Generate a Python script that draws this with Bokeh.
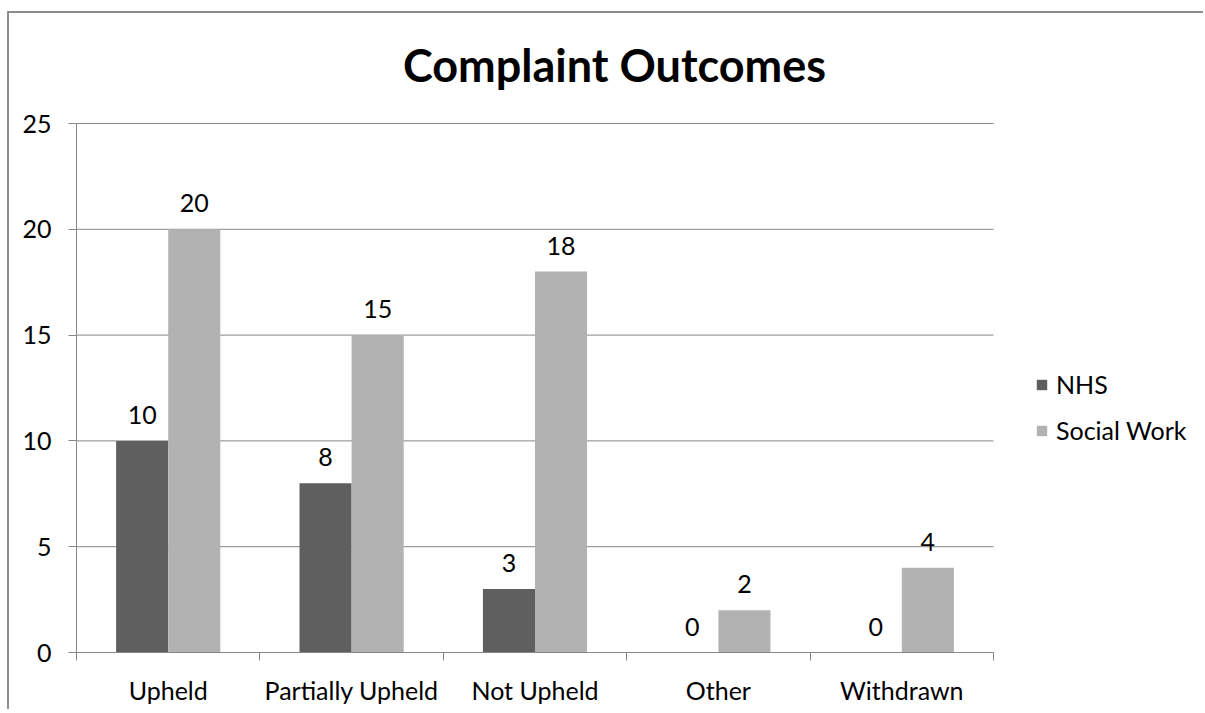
import numpy as np
from bokeh.plotting import figure
from bokeh.models import (Range1d, FixedTicker, ColumnDataSource, LabelSet, Label,
                          Legend, LegendItem)
from bokeh.core.properties import value
from bokeh.embed import file_html
from bokeh.resources import INLINE

categories = ["Upheld", "Partially Upheld", "Not Upheld", "Other", "Withdrawn"]
series_names = ["NHS", "Social Work"]
nhs_values = [10, 8, 3, 0, 0]
social_work_values = [20, 15, 18, 2, 4]
y_ticks = [0, 5, 10, 15, 20, 25]
title_text = "Complaint Outcomes"

NHS_COLOR = "#5f5f5f"
SW_COLOR = "#b2b2b2"
AXIS_COLOR = "#868686"
FONT = "Lato"
FS = "25px"

# layout (pixels)
ORIGIN_X, ORIGIN_Y = 9, 13          # content origin after css margin + border
FIG_W, FIG_H = 1196, 698
FRAME_L, FRAME_B = 76, 652
PLOT_R, PLOT_T = 993, 123          # end of category axis / top of value axis
n = len(categories)
y_max = y_ticks[-1]
px_per_x = (PLOT_R - FRAME_L) / n
px_per_y = (FRAME_B - PLOT_T) / y_max
x_end = (ORIGIN_X + FIG_W - FRAME_L) / px_per_x
y_end = (FRAME_B - ORIGIN_Y) / px_per_y

centers = np.arange(n) + 0.5
bar_w = 0.284

p = figure(width=FIG_W, height=FIG_H, x_range=Range1d(0, x_end),
           y_range=Range1d(0, y_end), output_backend="svg", toolbar_location=None,
           min_border_left=FRAME_L - ORIGIN_X, min_border_right=0, min_border_top=0,
           min_border_bottom=ORIGIN_Y + FIG_H - FRAME_B)
p.outline_line_color = None
p.background_fill_color = "white"
p.border_fill_color = "white"
p.styles = {"border-left": "2px solid #8c8c8c", "border-top": "2px solid #8c8c8c",
            "margin-left": "7px", "margin-top": "11px"}

# gridlines (value axis) drawn across the category span
p.segment(x0=[0] * len(y_ticks), x1=[n] * len(y_ticks), y0=y_ticks, y1=y_ticks,
          line_color=AXIS_COLOR, line_width=1)

src_nhs = ColumnDataSource(dict(x=centers - bar_w / 2, top=nhs_values,
                                label=[str(v) for v in nhs_values]))
src_sw = ColumnDataSource(dict(x=centers + bar_w / 2, top=social_work_values,
                               label=[str(v) for v in social_work_values]))

r_nhs = p.vbar(x="x", top="top", width=bar_w, source=src_nhs,
               fill_color=NHS_COLOR, line_color=None)
r_sw = p.vbar(x="x", top="top", width=bar_w, source=src_sw,
              fill_color=SW_COLOR, line_color=None)

for src in (src_nhs, src_sw):
    p.add_layout(LabelSet(x="x", y="top", text="label", source=src,
                          text_align="center", text_baseline="alphabetic",
                          y_offset=17, text_font=value(FONT), text_font_size=value(FS),
                          text_color="black"))

# y axis
p.yaxis.ticker = FixedTicker(ticks=y_ticks)
p.yaxis.bounds = (0, y_max)
p.yaxis.axis_line_color = AXIS_COLOR
p.yaxis.major_tick_line_color = AXIS_COLOR
p.yaxis.major_tick_in = 0
p.yaxis.major_tick_out = 8
p.yaxis.minor_tick_line_color = None
p.yaxis.major_label_standoff = 17
p.yaxis.major_label_text_font = FONT
p.yaxis.major_label_text_font_size = FS
p.yaxis.major_label_text_color = "black"

# x axis
p.xaxis.ticker = FixedTicker(ticks=list(centers), minor_ticks=list(range(n + 1)))
p.xaxis.bounds = (0, n)
p.xaxis.major_label_overrides = {float(c): name for c, name in zip(centers, categories)}
p.xaxis.axis_line_color = AXIS_COLOR
p.xaxis.major_tick_line_color = None
p.xaxis.major_tick_in = 0
p.xaxis.major_tick_out = 0
p.xaxis.minor_tick_line_color = AXIS_COLOR
p.xaxis.minor_tick_in = 0
p.xaxis.minor_tick_out = 8
p.xaxis.major_label_standoff = 14
p.xaxis.major_label_text_font = FONT
p.xaxis.major_label_text_font_size = FS
p.xaxis.major_label_text_color = "black"

p.xgrid.grid_line_color = None
p.ygrid.grid_line_color = None

# title
p.add_layout(Label(x=(614 - FRAME_L) / px_per_x, y=(FRAME_B - 64) / px_per_y,
                   text=title_text, text_align="center",
                   text_baseline="alphabetic", text_font=FONT, text_font_size="45px",
                   text_font_style="bold", text_color="black"))

legend = Legend(items=[LegendItem(label=series_names[0], renderers=[r_nhs]),
                       LegendItem(label=series_names[1], renderers=[r_sw])],
                location=(959, 207), orientation="vertical")
legend.border_line_color = None
legend.background_fill_alpha = 0
legend.margin = 0
legend.padding = 0
legend.glyph_width = 13
legend.glyph_height = 13
legend.label_standoff = 8
legend.spacing = 16
legend.label_text_font = FONT
legend.label_text_font_size = FS
legend.label_text_color = "black"
p.add_layout(legend, "center")

open("out.html", "w").write(file_html(p, INLINE))
